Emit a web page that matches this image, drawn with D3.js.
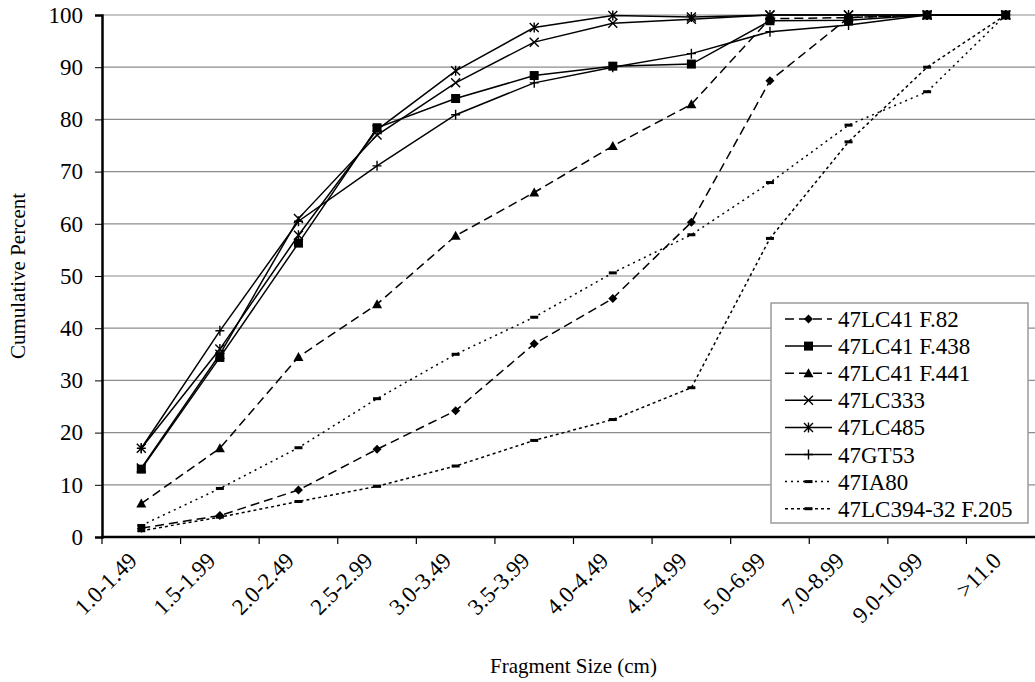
<!DOCTYPE html>
<html lang="en">
<head>
  <meta charset="UTF-8">
  <title>Cumulative Percent by Fragment Size</title>
  <script src="https://d3js.org/d3.v7.min.js"></script>
  <style>
    body { margin: 0; background: #fff; }
  </style>
</head>
<body>
  <svg id="chart"></svg>

  <script>
    // fragment size classes
    const categories = ["1.0-1.49", "1.5-1.99", "2.0-2.49", "2.5-2.99", "3.0-3.49", "3.5-3.99",
      "4.0-4.49", "4.5-4.99", "5.0-6.99", "7.0-8.99", "9.0-10.99", ">11.0"];

    // cumulative percent per series
    const lc41f82   = [1.7, 4.1, 9.0, 16.8, 24.2, 37.0, 45.7, 60.3, 87.4, 99.5, 100, 100];
    const lc41f438  = [13.0, 34.4, 56.3, 78.4, 84.0, 88.4, 90.2, 90.6, 98.9, 99.0, 100, 100];
    const lc41f441  = [6.4, 17.0, 34.5, 44.6, 57.7, 66.0, 74.9, 82.9, 99.3, 99.5, 100, 100];
    const lc333     = [13.2, 35.0, 61.0, 77.0, 87.0, 94.8, 98.4, 99.2, 100, 100, 100, 100];
    const lc485     = [17.0, 36.0, 57.8, 78.0, 89.3, 97.6, 99.9, 99.6, 100, 100, 100, 100];
    const gt53      = [17.0, 39.5, 60.5, 71.1, 80.9, 87.0, 90.0, 92.6, 96.8, 98.1, 100, 100];
    const ia80      = [2.2, 9.3, 17.1, 26.5, 35.0, 42.1, 50.6, 57.9, 67.9, 78.9, 85.3, 100];
    const lc394     = [1.2, 3.8, 6.8, 9.7, 13.6, 18.5, 22.5, 28.6, 57.2, 75.7, 90.0, 100];

    const yTicks = [0, 10, 20, 30, 40, 50, 60, 70, 80, 90, 100];

    const series = [
      { name: "47LC41 F.82",      values: lc41f82,  dash: "9,5",  marker: "diamond" },
      { name: "47LC41 F.438",     values: lc41f438, dash: null,   marker: "square" },
      { name: "47LC41 F.441",     values: lc41f441, dash: "9,5",  marker: "triangle" },
      { name: "47LC333",          values: lc333,    dash: null,   marker: "x" },
      { name: "47LC485",          values: lc485,    dash: null,   marker: "star" },
      { name: "47GT53",           values: gt53,     dash: null,   marker: "plus" },
      { name: "47IA80",           values: ia80,     dash: "2,4",  marker: "bar" },
      { name: "47LC394-32 F.205", values: lc394,    dash: "3,3",  marker: "bar" }
    ];

    const FONT = "'Liberation Serif', 'Times New Roman', serif";
    const width = 1035, height = 682;
    const plotLeft = 102, plotTop = 15, plotBottom = 537, plotRight = 1045;

    const svg = d3.select("#chart")
      .attr("width", width)
      .attr("height", height)
      .style("font-family", FONT);

    const x = d3.scaleBand().domain(categories).range([plotLeft, plotRight]);
    const y = d3.scaleLinear().domain([0, 100]).range([plotBottom, plotTop]);
    const cx = c => x(c) + x.bandwidth() / 2;

    // gridlines
    svg.append("g")
      .selectAll("line")
      .data(yTicks.filter(t => t > 0))
      .join("line")
      .attr("x1", plotLeft).attr("x2", plotRight)
      .attr("y1", d => y(d)).attr("y2", d => y(d))
      .attr("stroke", "#8c8c8c")
      .attr("stroke-width", 1.2);

    // markers
    function drawMarker(g, type, px, py) {
      const s = 4.5;
      if (type === "diamond") {
        g.append("path").attr("d", `M${px},${py - s}L${px + s},${py}L${px},${py + s}L${px - s},${py}Z`).attr("fill", "#000");
      } else if (type === "square") {
        g.append("rect").attr("x", px - 4.5).attr("y", py - 4.5).attr("width", 9).attr("height", 9).attr("fill", "#000");
      } else if (type === "triangle") {
        g.append("path").attr("d", `M${px},${py - 5}L${px + 5},${py + 4}L${px - 5},${py + 4}Z`).attr("fill", "#000");
      } else if (type === "x" || type === "star" || type === "plus") {
        const p = [];
        if (type !== "plus") p.push(`M${px - s},${py - s}L${px + s},${py + s}M${px - s},${py + s}L${px + s},${py - s}`);
        if (type !== "x") p.push(`M${px},${py - s - 0.5}L${px},${py + s + 0.5}`);
        if (type === "plus") p.push(`M${px - s},${py}L${px + s},${py}`);
        g.append("path").attr("d", p.join("")).attr("stroke", "#000").attr("stroke-width", 1.4).attr("fill", "none");
      } else if (type === "bar") {
        g.append("rect").attr("x", px - 4).attr("y", py - 1.5).attr("width", 8).attr("height", 3).attr("fill", "#000");
      }
    }

    const line = d3.line()
      .x((d, i) => cx(categories[i]))
      .y(d => y(d));

    series.forEach(s => {
      const g = svg.append("g");
      g.append("path")
        .datum(s.values)
        .attr("d", line)
        .attr("fill", "none")
        .attr("stroke", "#000")
        .attr("stroke-width", 1.5)
        .attr("stroke-dasharray", s.dash);
      s.values.forEach((v, i) => drawMarker(g, s.marker, cx(categories[i]), y(v)));
    });

    // y axis
    const yAxis = svg.append("g")
      .attr("transform", `translate(${plotLeft},0)`)
      .call(d3.axisLeft(y).tickValues(yTicks).tickSize(7).tickPadding(12))
      .attr("font-family", FONT)
      .attr("font-size", 23);
    yAxis.select(".domain").attr("stroke-width", 2.5);
    yAxis.selectAll("text").attr("fill", "#000");

    // x axis
    const xg = svg.append("g").attr("font-family", FONT);
    xg.append("line")
      .attr("x1", plotLeft - 1).attr("x2", plotRight)
      .attr("y1", plotBottom).attr("y2", plotBottom)
      .attr("stroke", "#000").attr("stroke-width", 2.5);
    xg.selectAll("line.tick")
      .data(categories)
      .join("line")
      .attr("class", "tick")
      .attr("x1", d => x(d)).attr("x2", d => x(d))
      .attr("y1", plotBottom).attr("y2", plotBottom + 7)
      .attr("stroke", "#000").attr("stroke-width", 1.2);
    xg.selectAll("text")
      .data(categories)
      .join("text")
      .attr("transform", d => `translate(${cx(d) - 3},${plotBottom + 25}) rotate(-45)`)
      .attr("text-anchor", "end")
      .attr("font-size", 23)
      .text(d => d);

    // axis titles
    svg.append("text")
      .attr("transform", `translate(25,${(plotTop + plotBottom) / 2}) rotate(-90)`)
      .attr("text-anchor", "middle")
      .attr("font-family", FONT)
      .attr("font-size", 21)
      .text("Cumulative Percent");

    svg.append("text")
      .attr("x", (plotLeft + plotRight) / 2)
      .attr("y", 673)
      .attr("text-anchor", "middle")
      .attr("font-family", FONT)
      .attr("font-size", 21)
      .text("Fragment Size (cm)");

    // legend
    const lg = svg.append("g").attr("transform", "translate(771,303)").attr("font-family", FONT);
    lg.append("rect")
      .attr("width", 257).attr("height", 220)
      .attr("fill", "#fff").attr("stroke", "#9a9a9a").attr("stroke-width", 1.5);
    series.forEach((s, i) => {
      const ry = 16 + i * 27.1;
      const row = lg.append("g");
      row.append("line")
        .attr("x1", 14).attr("x2", 61)
        .attr("y1", ry).attr("y2", ry)
        .attr("stroke", "#000").attr("stroke-width", 1.5)
        .attr("stroke-dasharray", s.dash);
      drawMarker(row, s.marker, 37.5, ry);
      row.append("text")
        .attr("x", 67).attr("y", ry)
        .attr("dy", "0.35em")
        .attr("font-size", 23)
        .text(s.name);
    });
  </script>
</body>
</html>
